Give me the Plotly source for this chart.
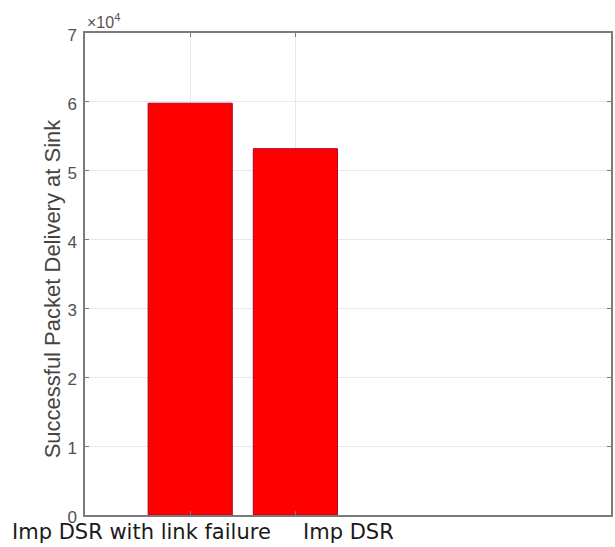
import plotly.graph_objects as go

# Successful packet delivery at the sink for each routing variant
categories = ["Imp DSR with link failure", "Imp DSR"]
delivered = [59800, 53200]

y_tick_values = [0, 10000, 20000, 30000, 40000, 50000, 60000, 70000]
y_tick_labels = ["0", "1", "2", "3", "4", "5", "6", "7"]
y_title = "Successful Packet Delivery at Sink"

axis_grey = "#7a7a7a"
grid_grey = "#e8e8e8"
text_grey = "#444444"

fig = go.Figure(
    go.Bar(
        x=categories,
        y=delivered,
        width=0.8,
        marker=dict(color="#ff0000", line=dict(color="#b0002a", width=1)),
        showlegend=False,
    )
)

fig.update_xaxes(
    type="category",
    categoryorder="array",
    categoryarray=categories,
    range=[-1, 4],
    showticklabels=False,
    showgrid=True,
    gridcolor=grid_grey,
    gridwidth=1,
    ticks="inside",
    ticklen=4,
    tickcolor=axis_grey,
    showline=True,
    linecolor=axis_grey,
    linewidth=1.5,
    mirror="ticks",
    zeroline=False,
)

fig.update_yaxes(
    range=[0, 70000],
    tickvals=y_tick_values,
    ticktext=y_tick_labels,
    tickfont=dict(family="Arial, Liberation Sans", size=17, color="#505050"),
    ticklabelstandoff=3,
    ticklabelshift=2,
    showgrid=True,
    gridcolor=grid_grey,
    gridwidth=1,
    ticks="inside",
    ticklen=4,
    tickcolor=axis_grey,
    showline=True,
    linecolor=axis_grey,
    linewidth=1.5,
    mirror="ticks",
    zeroline=False,
)

# Category names written under the axis
label_x = [-0.142, 0.411]
annotations = [
    dict(
        text=name,
        xref="paper",
        yref="paper",
        x=lx,
        y=-0.006,
        xanchor="left",
        yanchor="top",
        showarrow=False,
        font=dict(family="DejaVu Sans", size=21, color="#1a1a1a"),
    )
    for name, lx in zip(categories, label_x)
]
# Rotated y-axis title
annotations.append(
    dict(
        text=y_title,
        xref="paper",
        yref="paper",
        x=-0.061,
        y=0.47,
        xanchor="center",
        yanchor="middle",
        textangle=-90,
        showarrow=False,
        font=dict(family="Arial, Liberation Sans", size=22, color=text_grey),
    )
)
# Exponent for the y tick labels
annotations.append(
    dict(
        text="\u00d710<sup>4</sup>",
        xref="paper",
        yref="paper",
        x=0.0,
        y=1.0,
        xanchor="left",
        yanchor="bottom",
        showarrow=False,
        font=dict(family="Arial, Liberation Sans", size=16, color="#555555"),
    )
)

fig.update_layout(
    width=615,
    height=547,
    margin=dict(l=85, r=2, t=33, b=32),
    paper_bgcolor="white",
    plot_bgcolor="white",
    bargap=0.2,
    annotations=annotations,
)

fig.write_html("out.html")
